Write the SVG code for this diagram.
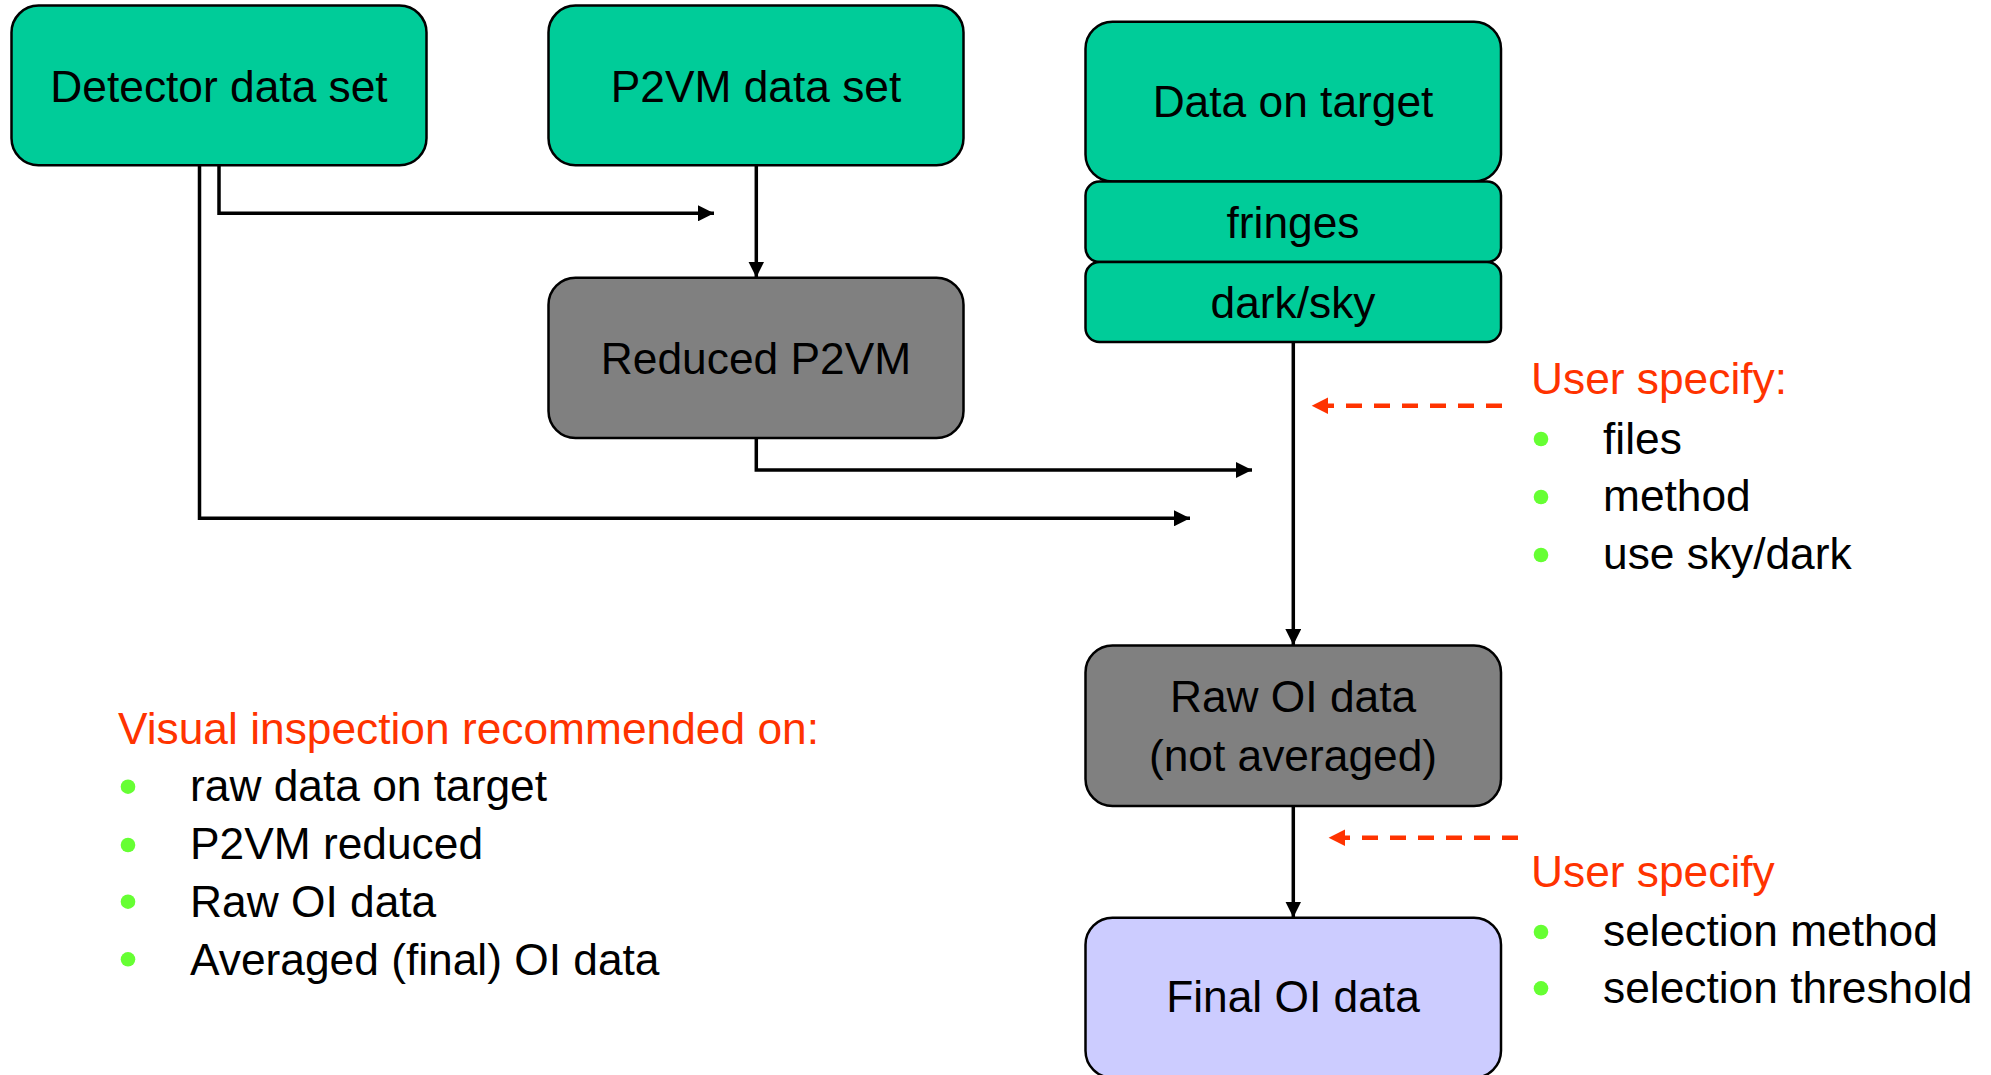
<svg xmlns="http://www.w3.org/2000/svg" width="1991" height="1075" viewBox="0 0 1991 1075">
  <style>
    .txt { font-family: "Liberation Sans", Arial, sans-serif; font-size: 44.3px; fill: #000000; }
    .ctr { text-anchor: middle; }
    .red { fill: #FF3300; }
    .green { fill: #00CC99; stroke: #000000; stroke-width: 2.5; }
    .grey { fill: #808080; stroke: #000000; stroke-width: 2.5; }
    .lav { fill: #CCCCFF; stroke: #000000; stroke-width: 2.5; }
    .conn { fill: none; stroke: #000000; stroke-width: 3.5; }
    .dash { fill: none; stroke: #FF3300; stroke-width: 4.5; stroke-dasharray: 16 12; }
    .bullet { fill: #66FF33; }
  </style>
  <defs>
    <marker id="arrow" markerUnits="userSpaceOnUse" markerWidth="16" markerHeight="16" viewBox="0 0 15 15" refX="15" refY="7.5" orient="auto">
      <path d="M0,0 L15,7.5 L0,15 Z" fill="#000000"/>
    </marker>
  </defs>
  <rect width="1991" height="1075" fill="#FFFFFF"/>

  <g id="connectors">
    <path class="conn" d="M219,165 V213.3 H714" marker-end="url(#arrow)"/>
    <path class="conn" d="M199.5,165 V518.3 H1190" marker-end="url(#arrow)"/>
    <path class="conn" d="M756.3,165 V277.5" marker-end="url(#arrow)"/>
    <path class="conn" d="M756.3,438 V470 H1252" marker-end="url(#arrow)"/>
    <path class="conn" d="M1293.3,342 V645" marker-end="url(#arrow)"/>
    <path class="conn" d="M1293.3,806 V917.5" marker-end="url(#arrow)"/>
    <path class="dash" d="M1502,405.7 H1318"/>
    <polygon points="1311.7,405.7 1328,397.5 1328,413.9" fill="#FF3300"/>
    <path class="dash" d="M1518,837.7 H1335"/>
    <polygon points="1328.6,837.7 1345,829.5 1345,845.9" fill="#FF3300"/>
  </g>

  <g id="detector">
    <rect class="green" x="11.5" y="5.6" width="415" height="159.6" rx="27" ry="27"/>
    <text class="txt ctr" x="219" y="102">Detector data set</text>
  </g>
  <g id="p2vm">
    <rect class="green" x="548.5" y="5.6" width="415" height="159.6" rx="27" ry="27"/>
    <text class="txt ctr" x="756" y="102">P2VM data set</text>
  </g>
  <g id="reduced-p2vm">
    <rect class="grey" x="548.5" y="277.7" width="415" height="160.3" rx="27" ry="27"/>
    <text class="txt ctr" x="756" y="374">Reduced P2VM</text>
  </g>
  <g id="data-on-target">
    <rect class="green" x="1085.5" y="21.8" width="415.5" height="159.7" rx="27" ry="27"/>
    <text class="txt ctr" x="1293" y="117">Data on target</text>
  </g>
  <g id="fringes">
    <rect class="green" x="1085.5" y="181.5" width="415.5" height="80.5" rx="14" ry="14"/>
    <text class="txt ctr" x="1293" y="237.5">fringes</text>
  </g>
  <g id="dark-sky">
    <rect class="green" x="1085.5" y="262" width="415.5" height="80" rx="14" ry="14"/>
    <text class="txt ctr" x="1293" y="318">dark/sky</text>
  </g>
  <g id="raw-oi">
    <rect class="grey" x="1085.5" y="645.5" width="415.5" height="160.5" rx="27" ry="27"/>
    <text class="txt ctr" x="1293" y="712">Raw OI data</text>
    <text class="txt ctr" x="1293" y="770.5">(not averaged)</text>
  </g>
  <g id="final-oi">
    <rect class="lav" x="1085.5" y="917.7" width="415.5" height="160" rx="27" ry="27"/>
    <text class="txt ctr" x="1293" y="1012">Final OI data</text>
  </g>

  <g id="user-specify-1">
    <text class="txt red" x="1531" y="394">User specify:</text>
    <circle class="bullet" cx="1541" cy="439" r="7.3"/>
    <text class="txt" x="1603" y="453.5">files</text>
    <circle class="bullet" cx="1541" cy="497" r="7.3"/>
    <text class="txt" x="1603" y="511">method</text>
    <circle class="bullet" cx="1541" cy="555" r="7.3"/>
    <text class="txt" x="1603" y="568.5">use sky/dark</text>
  </g>

  <g id="user-specify-2">
    <text class="txt red" x="1531" y="887">User specify</text>
    <circle class="bullet" cx="1541" cy="932" r="7.3"/>
    <text class="txt" x="1603" y="945.5">selection method</text>
    <circle class="bullet" cx="1541" cy="988.3" r="7.3"/>
    <text class="txt" x="1603" y="1003">selection threshold</text>
  </g>

  <g id="visual-inspection">
    <text class="txt red" x="118" y="743.5">Visual inspection recommended on:</text>
    <circle class="bullet" cx="128" cy="786.7" r="7.3"/>
    <text class="txt" x="190" y="801">raw data on target</text>
    <circle class="bullet" cx="128" cy="845" r="7.3"/>
    <text class="txt" x="190" y="859">P2VM reduced</text>
    <circle class="bullet" cx="128" cy="901.7" r="7.3"/>
    <text class="txt" x="190" y="916.5">Raw OI data</text>
    <circle class="bullet" cx="128" cy="959.3" r="7.3"/>
    <text class="txt" x="190" y="974.5">Averaged (final) OI data</text>
  </g>
</svg>
